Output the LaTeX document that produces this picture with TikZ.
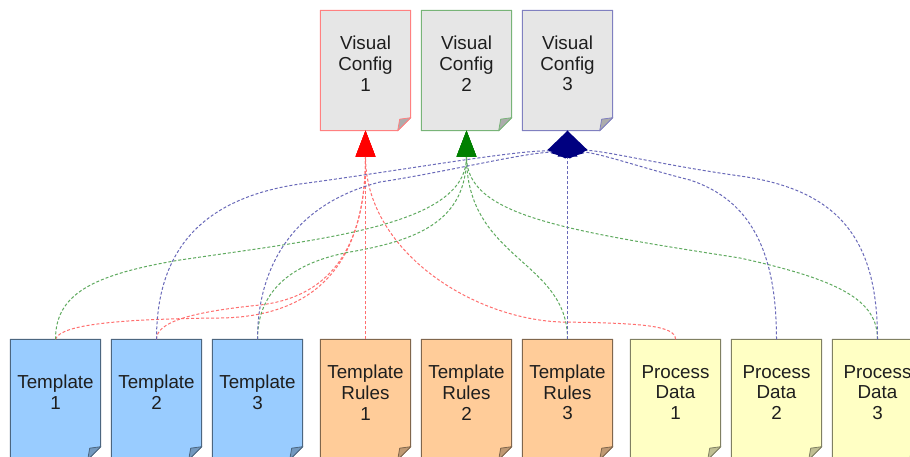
\documentclass[tikz,border=0pt]{standalone}
\usepackage{fontspec}
\setmainfont{Liberation Sans}
\usetikzlibrary{arrows.meta}

% fills and borders of the document cards
\definecolor{tplfill}{RGB}{153,204,255}
\definecolor{rulefill}{RGB}{255,204,153}
\definecolor{datafill}{RGB}{255,255,196}
\definecolor{cfgfill}{RGB}{230,230,230}
\definecolor{cfgred}{RGB}{255,128,128}
\definecolor{cfggreen}{RGB}{120,180,120}
\definecolor{cfgblue}{RGB}{128,128,192}
\definecolor{txtcol}{RGB}{30,30,30}
% link colours: light dashed lines, solid heads
\definecolor{headred}{RGB}{255,0,0}
\definecolor{headgreen}{RGB}{0,128,0}
\definecolor{headblue}{RGB}{0,0,128}
\definecolor{linkred}{RGB}{255,110,110}
\definecolor{linkgreen}{RGB}{95,170,95}
\definecolor{linkblue}{RGB}{105,105,185}

\tikzset{
  boxnode/.style={minimum width=90pt, minimum height=120pt, inner sep=0pt, draw=none},
  boxtext/.style={align=center, inner sep=0pt, text=txtcol,
                  font=\fontsize{18.8}{20.7}\selectfont},
  link/.style={dash pattern=on 3pt off 2pt, line width=1pt},
  redlink/.style={link, draw=linkred,
     -{Triangle[width=20pt,length=26pt,color=headred,line width=0pt]}},
  greenlink/.style={link, draw=linkgreen,
     -{Triangle[width=20pt,length=26pt,color=headgreen,line width=0pt]}},
  bluelink/.style={link, draw=linkblue,
     -{Triangle[width=20pt,length=26pt,color=headblue,line width=0pt]}},
}

% a document card with a folded bottom-right corner
% #1 name, #2 x, #3 y, #4 fill, #5 border, #6 text
\newcommand\docbox[6]{%
  \node[boxnode] (#1) at (#2,#3) {};
  \path[draw=#5, fill=#4, line width=1pt, line join=round]
    (#1.north west) -- (#1.north east) -- ([yshift=13pt]#1.south east)
    -- ([xshift=-13pt]#1.south east) -- (#1.south west) -- cycle;
  \path[draw=#5, fill=#4!75!black, line width=0.8pt, line join=round]
    ([yshift=13pt]#1.south east) -- ([xshift=-11pt,yshift=11.5pt]#1.south east)
    -- ([xshift=-13pt]#1.south east) -- cycle;
  \node[boxtext] (#1-label) at ([yshift=7pt]#1.center) {#6};
}

\begin{document}
\begin{tikzpicture}[x=1pt, y=-1pt]
\clip (0,0) rectangle (910,457);
\fill[white] (0,0) rectangle (910,457);

% visual configurations
\docbox{v1}{365.5}{70.5}{cfgfill}{cfgred}{Visual\\Config\\1}
\docbox{v2}{466.5}{70.5}{cfgfill}{cfggreen}{Visual\\Config\\2}
\docbox{v3}{567.5}{70.5}{cfgfill}{cfgblue}{Visual\\Config\\3}

% templates
\docbox{t1}{55.5}{399.5}{tplfill}{tplfill!50!black}{Template\\1}
\docbox{t2}{156.5}{399.5}{tplfill}{tplfill!50!black}{Template\\2}
\docbox{t3}{257.5}{399.5}{tplfill}{tplfill!50!black}{Template\\3}
% template rules
\docbox{r1}{365.5}{399.5}{rulefill}{rulefill!50!black}{Template\\Rules\\1}
\docbox{r2}{466.5}{399.5}{rulefill}{rulefill!50!black}{Template\\Rules\\2}
\docbox{r3}{567.5}{399.5}{rulefill}{rulefill!50!black}{Template\\Rules\\3}
% process data
\docbox{p1}{675.5}{399.5}{datafill}{datafill!50!black}{Process\\Data\\1}
\docbox{p2}{776.5}{399.5}{datafill}{datafill!50!black}{Process\\Data\\2}
\docbox{p3}{877.5}{399.5}{datafill}{datafill!50!black}{Process\\Data\\3}

% links into Visual Config 1
\draw[redlink] (t1.north) .. controls +(5,-15) and +(-100,1) .. (220,318)
  .. controls +(80,-1) and +(0,149) .. (v1.south);
\draw[redlink] (t2.north) .. controls +(0,-17) and +(-70,7) .. (260,305)
  .. controls +(60,-7) and +(0,129) .. (v1.south);
\draw[redlink] (r1.north) -- (v1.south);
\draw[redlink] (p1.north) .. controls +(0,-14) and +(80,1) .. (560,322)
  .. controls +(-90,-4) and +(0,119) .. (v1.south);

% links into Visual Config 2
\draw[greenlink] (t1.north) .. controls +(0,-44) and +(-90,15) .. (180,260)
  .. controls +(150,-22) and +(0,94) .. (v2.south);
\draw[greenlink] (t3.north) .. controls +(0,-39) and +(-70,13) .. (350,252)
  .. controls +(70,-12) and +(0,89) .. (v2.south);
\draw[greenlink] (r3.north) .. controls +(0,-79) and +(0,129) .. (v2.south);
\draw[greenlink] (p3.north) .. controls +(0,-39) and +(100,22) .. (740,258)
  .. controls +(-180,-28) and +(0,84) .. (v2.south);

% links into Visual Config 3
\draw[bluelink] (t2.north) .. controls +(0,-77) and +(-110,16) .. (300,184)
  .. controls +(120,-16) and +(-5.1,10.9) .. (v3.south);
\draw[bluelink] (t3.north) .. controls +(0,-69) and +(-90,23) .. (380,182)
  .. controls +(80,-12) and +(-3.1,11.6) .. (v3.south);
\draw[bluelink] (r3.north) -- (v3.south);
\draw[bluelink] (p2.north) .. controls +(0,-89) and +(60,20) .. (690,180)
  .. controls +(-60,-15) and +(3.1,11.6) .. (v3.south);
\draw[bluelink] (p3.north) .. controls +(0,-99) and +(100,14) .. (740,176)
  .. controls +(-100,-14) and +(5.1,10.9) .. (v3.south);
\end{tikzpicture}
\end{document}
